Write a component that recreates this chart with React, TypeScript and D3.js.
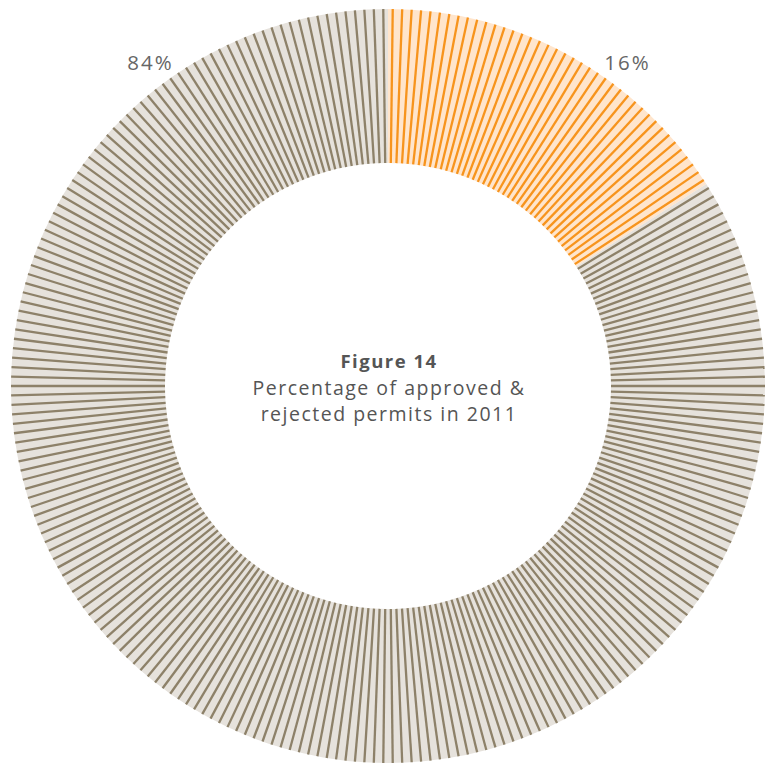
import React from "react";
import * as d3 from "d3";

const categories = ["Approved", "Rejected"];
const values = [16, 84];
const labels = ["16%", "84%"];
const titleLines = ["Percentage of approved &", "rejected permits in 2011"];
const TOTAL_LINES = 250;

const fillColors = ["#FFE5CC", "#E6E2DC"];
const lineColors = ["#F7941D", "#8D8169"];

export default function App() {
  const W = 768, H = 765;
  const cx = 388, cy = 386;
  const R = 377, r0 = 223;
  const pie = d3.pie<number>().sort(null).value((d) => d);
  const arcs = pie(values);
  const arc = d3.arc<d3.PieArcDatum<number>>().innerRadius(r0).outerRadius(R);
  const step = (2 * Math.PI) / TOTAL_LINES;
  const labelAngles = [36.4, -36.4].map((a) => (a * Math.PI) / 180);
  const labelR = 402;

  return (
    <svg width={W} height={H} style={{ position: "absolute", left: 0, top: 0 }}>
      <g transform={`translate(${cx},${cy})`}>
        {arcs.map((a, i) => {
          const n = Math.round((a.endAngle - a.startAngle) / step);
          const lines = d3.range(n).map((k) => a.startAngle + (k + 0.5) * step);
          return (
            <g key={categories[i]}>
              <path d={arc(a) || ""} fill={fillColors[i]} />
              {lines.map((ang, k) => (
                <line
                  key={k}
                  x1={r0 * Math.sin(ang)}
                  y1={-r0 * Math.cos(ang)}
                  x2={R * Math.sin(ang)}
                  y2={-R * Math.cos(ang)}
                  stroke={lineColors[i]}
                  strokeWidth={2.3}
                />
              ))}
            </g>
          );
        })}
        {labels.map((t, i) => (
          <text
            key={t}
            x={labelR * Math.sin(labelAngles[i]) + 1}
            y={-labelR * Math.cos(labelAngles[i])}
            textAnchor="middle"
            dominantBaseline="central"
            fontFamily="'Open Sans', sans-serif"
            fontSize={20.5}
            letterSpacing={2}
            fill="#666"
          >
            {t}
          </text>
        ))}
        <text y={-18} x={1} textAnchor="middle" fontFamily="'Open Sans', sans-serif" fontWeight={700} fontSize={18.5} letterSpacing={1.5} fill="#555">
          Figure 14
        </text>
        {titleLines.map((t, i) => (
          <text key={t} x={1} y={9 + i * 26} textAnchor="middle" fontFamily="'Open Sans', sans-serif" fontSize={19.5} letterSpacing={1.5} fill="#555">
            {t}
          </text>
        ))}
      </g>
    </svg>
  );
}
